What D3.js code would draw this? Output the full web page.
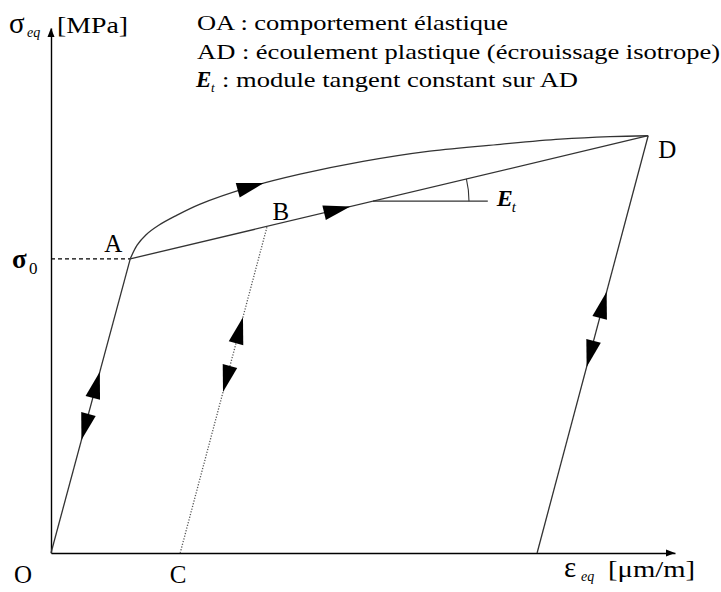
<!DOCTYPE html>
<html><head><meta charset="utf-8">
<script src="https://cdn.jsdelivr.net/npm/d3@7"></script>
<style>body{margin:0;background:#fff} svg{display:block}</style>
</head><body>
<svg id="c" width="721" height="592"></svg>
<script>
// ---- data (strain units on x, stress units on y) ----
const xAxisMax = 1000;
const yAxisMax = 614;
const pointLabels = ["O", "A", "B", "C", "D"];
const pointX = [0, 127, 346, 207, 957];
const pointY = [0, 344, 381, 0, 488];
const unloadEndX = 779;               // end of unloading from D
const curveX = [127, 138, 152, 172, 199, 239, 314, 399, 500, 607, 720, 816, 896, 957];
const curveY = [344, 360, 372, 383, 394, 408, 427, 443, 458, 470, 478, 484, 487, 488];
const tangentX = [516, 700];          // horizontal reference for E_t
const legendKeys = ["OA", "AD", "E"];
const legendTexts = [" : comportement élastique", " : écoulement plastique (écrouissage isotrope)", " : module tangent constant sur AD"];
// arrows: segment, tip parameter along segment, direction (+1 toward end)
const arrowSeg = ["OA", "OA", "CB", "CB", "UD", "UD", "AD", "curve"];
const arrowT   = [0.616, 0.384, 0.724, 0.494, 0.626, 0.446, 0.425, 0.29];
const arrowDir = [1, -1, 1, -1, 1, -1, 1, 1];

const svg = d3.select("#c");
const x = d3.scaleLinear([0, xAxisMax], [51, 675]);
const y = d3.scaleLinear([0, yAxisMax], [553, 28]);
const P = {};
pointLabels.forEach((k, i) => P[k] = [x(pointX[i]), y(pointY[i])]);
P.U = [x(unloadEndX), y(0)];
const lineCol = "#333";
const serif = "Liberation Serif, Times New Roman, serif";

// axes
svg.append("g").attr("transform", `translate(0,${y(0)})`)
  .call(d3.axisBottom(x).ticks(0).tickSizeOuter(0))
  .call(g => g.select(".domain").attr("stroke", "#000").attr("stroke-width", 1.4));
svg.append("g").attr("transform", `translate(${x(0)},0)`)
  .call(d3.axisLeft(y).ticks(0).tickSizeOuter(0))
  .call(g => g.select(".domain").attr("stroke", "#000").attr("stroke-width", 1.4));
svg.append("path").attr("d", `M${x(xAxisMax)},${y(0)} l-9,-3.5 l0,7 Z`).attr("fill", "#000");
svg.append("path").attr("d", `M${x(0)},${y(yAxisMax)} l-3.5,9 l7,0 Z`).attr("fill", "#000");

// dashed sigma0 line
svg.append("line").attr("x1", x(0)).attr("x2", P.A[0]).attr("y1", P.A[1]).attr("y2", P.A[1])
  .attr("stroke", "#000").attr("stroke-width", 1.1).attr("stroke-dasharray", "4,3");

const segs = { OA: [P.O, P.A], AD: [P.A, P.D], CB: [P.C, P.B], UD: [P.U, P.D] };
function seg(a, b, dash, w, col) {
  svg.append("line").attr("x1", a[0]).attr("y1", a[1]).attr("x2", b[0]).attr("y2", b[1])
    .attr("stroke", col || lineCol).attr("stroke-width", w || 1.3)
    .attr("stroke-dasharray", dash || null);
}
seg(P.O, P.A);
seg(P.A, P.D);
seg(P.U, P.D);
seg(P.C, P.B, "1.2,1.6", 1.3, "#555");

// curve
const curvePts = curveX.map((v, i) => [x(v), y(curveY[i])]);
const curvePath = svg.append("path")
  .attr("d", d3.line().curve(d3.curveCatmullRom.alpha(0.5))(curvePts))
  .attr("fill", "none").attr("stroke", lineCol).attr("stroke-width", 1.3);

// tangent modulus annotation
const adSlope = (P.D[1] - P.A[1]) / (P.D[0] - P.A[0]);
const t0 = [x(tangentX[0]), P.A[1] + adSlope * (x(tangentX[0]) - P.A[0])];
svg.append("line").attr("x1", t0[0]).attr("y1", t0[1]).attr("x2", x(tangentX[1])).attr("y2", t0[1])
  .attr("stroke", lineCol).attr("stroke-width", 1.2);
const th = Math.atan(-adSlope), r = 96;
svg.append("path").attr("d", `M${t0[0] + r},${t0[1]} A${r},${r} 0 0 0 ${t0[0] + r * Math.cos(th)},${t0[1] - r * Math.sin(th)}`)
  .attr("fill", "none").attr("stroke", lineCol).attr("stroke-width", 1.1);

// arrows
const AL = 27, AW = 7.5;
const cpNode = curvePath.node(), cpLen = cpNode.getTotalLength();
arrowSeg.forEach((s, i) => {
  let tip, ux, uy;
  if (s === "curve") {
    const L = arrowT[i] * cpLen;
    const p = cpNode.getPointAtLength(L), q = cpNode.getPointAtLength(L - 2);
    tip = [p.x, p.y]; ux = p.x - q.x; uy = p.y - q.y;
  } else {
    const [a, b] = segs[s];
    tip = [a[0] + (b[0] - a[0]) * arrowT[i], a[1] + (b[1] - a[1]) * arrowT[i]];
    ux = (b[0] - a[0]) * arrowDir[i]; uy = (b[1] - a[1]) * arrowDir[i];
  }
  const n = Math.hypot(ux, uy); ux /= n; uy /= n;
  const bx = tip[0] - ux * AL, by = tip[1] - uy * AL;
  svg.append("path")
    .attr("d", `M${tip[0]},${tip[1]} L${bx - uy * AW},${by + ux * AW} L${bx + uy * AW},${by - ux * AW} Z`)
    .attr("fill", "#000");
});

// helper for text pieces
function txt(xp, yp, s, size, opts) {
  opts = opts || {};
  const t = svg.append("text").attr("x", xp).attr("y", yp).attr("font-family", serif)
    .attr("font-size", size).text(s);
  if (opts.italic) t.attr("font-style", "italic");
  if (opts.bold) t.attr("font-weight", "bold");
  if (opts.anchor) t.attr("text-anchor", opts.anchor);
  if (opts.len) t.attr("textLength", opts.len).attr("lengthAdjust", "spacingAndGlyphs");
  return t;
}

// point labels
const labOff = {O: [-28, 30], A: [-17, -7], B: [14, -7], C: [-2, 30], D: [19, 22]};
pointLabels.forEach(k => txt(P[k][0] + labOff[k][0], P[k][1] + labOff[k][1], k, 25, {anchor: "middle"}));

// E_t label
txt(x(tangentX[1]) + 9, t0[1] + 5, "E", 24, {italic: true, bold: true});
txt(x(tangentX[1]) + 24, t0[1] + 11, "t", 15, {italic: true});

// sigma0 label
txt(12, P.A[1] + 9, "σ", 27, {bold: true});
txt(29, P.A[1] + 15, "0", 17);

// axis titles
txt(9, 33, "σ", 29);
txt(27, 37, "eq", 14, {italic: true});
txt(57, 33, "[MPa]", 23, {len: 71});
txt(564, 577, "ε", 29);
txt(581, 581, "eq", 14, {italic: true});
txt(608, 577, "[μm/m]", 23, {len: 87});

// legend
const legLen = [311, 523, 356];
legendKeys.forEach((k, i) => {
  const yy = 30 + i * 28.5;
  if (k === "E") {
    txt(196, yy, "E", 23, {italic: true, bold: true});
    txt(211, yy + 5, "t", 13, {italic: true});
    txt(222, yy, legendTexts[i].trim(), 21.5, {len: legLen[i]});
  } else {
    txt(197, yy, k + legendTexts[i], 21.5, {len: legLen[i]});
  }
});
</script></body></html>
